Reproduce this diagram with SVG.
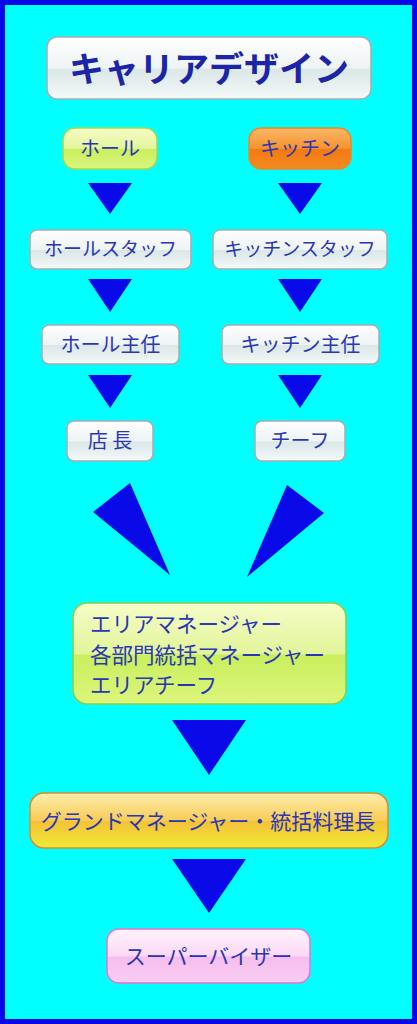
<svg xmlns="http://www.w3.org/2000/svg" width="417" height="1024" viewBox="0 0 417 1024">
<style>
text{font-family:"Noto Sans CJK JP","Noto Sans",sans-serif;fill:#2a36b4;text-anchor:middle}
.t{font-size:20px}
.w{fill:url(#gw);stroke:#a8acb2;stroke-width:1.5}
.tri{fill:#0a0ae8}
</style>
<defs>
<linearGradient id="gw" x1="0" y1="0" x2="0" y2="1">
<stop offset="0" stop-color="#ffffff"/><stop offset="0.5" stop-color="#eef3f3"/><stop offset="0.52" stop-color="#dbe7e8"/><stop offset="1" stop-color="#f4f8f8"/>
</linearGradient>
<linearGradient id="gg" x1="0" y1="0" x2="0" y2="1">
<stop offset="0" stop-color="#f6fcc8"/><stop offset="0.5" stop-color="#e2f59a"/><stop offset="0.52" stop-color="#c9ef5e"/><stop offset="1" stop-color="#dcf57c"/>
</linearGradient>
<linearGradient id="go" x1="0" y1="0" x2="0" y2="1">
<stop offset="0" stop-color="#f9b868"/><stop offset="0.5" stop-color="#f5922e"/><stop offset="0.52" stop-color="#f27a12"/><stop offset="1" stop-color="#f48a22"/>
</linearGradient>
<linearGradient id="gy" x1="0" y1="0" x2="0" y2="1">
<stop offset="0" stop-color="#fdeeb0"/><stop offset="0.5" stop-color="#f8cc55"/><stop offset="0.52" stop-color="#f3c238"/><stop offset="1" stop-color="#f1ea36"/>
</linearGradient>
<linearGradient id="gp" x1="0" y1="0" x2="0" y2="1">
<stop offset="0" stop-color="#fff4fc"/><stop offset="0.5" stop-color="#fbd8f5"/><stop offset="0.52" stop-color="#f6bdee"/><stop offset="1" stop-color="#f9cdf3"/>
</linearGradient>
</defs>
<rect x="2.5" y="2.5" width="412" height="1019" fill="#00ffff" stroke="#0808e6" stroke-width="5"/>

<g id="title">
<rect x="47" y="37" width="324" height="62" rx="10" class="w"/>
<text x="209" y="82" style="font-size:35px;font-weight:bold;fill:#1c24a8">キャリアデザイン</text>
</g>
<g id="hall">
<rect x="63" y="128" width="94" height="41" rx="12" fill="url(#gg)" stroke="#a6d84c" stroke-width="1.5"/>
<text x="110" y="156" class="t">ホール</text>
</g>
<g id="kitchen">
<rect x="249" y="128" width="102" height="41" rx="12" fill="url(#go)" stroke="#e8892a" stroke-width="1.5"/>
<text x="300" y="156" class="t">キッチン</text>
</g>
<g id="hallstaff">
<rect x="30" y="230" width="161" height="39" rx="7" class="w"/>
<text x="110.5" y="256" style="font-size:19px">ホールスタッフ</text>
</g>
<g id="kitchenstaff">
<rect x="213" y="230" width="174" height="39" rx="7" class="w"/>
<text x="300" y="256" style="font-size:19px">キッチンスタッフ</text>
</g>
<g id="hallchief">
<rect x="42" y="325" width="137" height="39" rx="7" class="w"/>
<text x="110.5" y="352" class="t">ホール主任</text>
</g>
<g id="kitchenchief">
<rect x="222" y="325" width="157" height="39" rx="7" class="w"/>
<text x="300.5" y="352" class="t">キッチン主任</text>
</g>
<g id="manager">
<rect x="67" y="421" width="86" height="40" rx="7" class="w"/>
<text x="110" y="448" class="t">店 長</text>
</g>
<g id="chef">
<rect x="255" y="421" width="90" height="40" rx="7" class="w"/>
<text x="300" y="448" class="t">チーフ</text>
</g>
<g id="area">
<rect x="73" y="603" width="273" height="101" rx="14" fill="url(#gg)" stroke="#8ccc48" stroke-width="1.5"/>
<text x="90" y="632" style="font-size:21.5px;text-anchor:start">エリアマネージャー</text>
<text x="90" y="663" style="font-size:21.5px;text-anchor:start">各部門統括マネージャー</text>
<text x="90" y="693" style="font-size:21.5px;text-anchor:start">エリアチーフ</text>
</g>
<g id="grand">
<rect x="30" y="793" width="358" height="55" rx="14" fill="url(#gy)" stroke="#e0892a" stroke-width="1.5"/>
<text x="208" y="829" style="font-size:21px">グランドマネージャー・統括料理長</text>
</g>
<g id="supervisor">
<rect x="107" y="929" width="203" height="54" rx="12" fill="url(#gp)" stroke="#e274d4" stroke-width="1.5"/>
<text x="208.5" y="964" style="font-size:21px">スーパーバイザー</text>
</g>

<g id="connectors">
<polygon class="tri" points="88,183 132,183 110,214"/>
<polygon class="tri" points="278,183 322,183 300,214"/>
<polygon class="tri" points="88,279 132,279 110,312"/>
<polygon class="tri" points="278,279 322,279 300,312"/>
<polygon class="tri" points="88,375 132,375 110,408"/>
<polygon class="tri" points="278,375 322,375 300,408"/>
<polygon class="tri" points="93,512 130,483 170,575"/>
<polygon class="tri" points="287,485 324,513 247,577"/>
<polygon class="tri" points="172,720 246,720 209,775"/>
<polygon class="tri" points="172,859 246,859 209,913"/>
</g>
</svg>
